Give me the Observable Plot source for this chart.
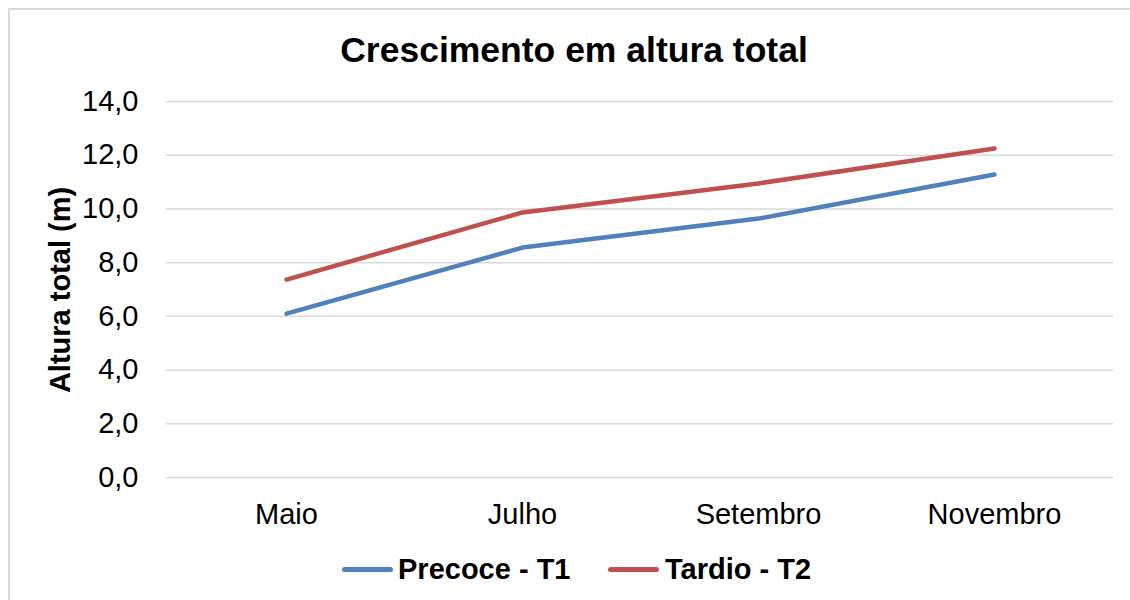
<!DOCTYPE html>
<html>
<head>
<meta charset="utf-8">
<script src="https://cdn.jsdelivr.net/npm/d3@7"></script>
<script src="https://cdn.jsdelivr.net/npm/@observablehq/plot@0.6"></script>
<style>
  html, body { margin: 0; padding: 0; background: #fff; }
  body { width: 1130px; height: 600px; overflow: hidden; position: relative; font-family: "Liberation Sans", Arial, sans-serif; }
  #frame { position: absolute; left: 8px; top: 8px; width: 1140px; height: 610px; border: 2px solid #d9d9d9; box-sizing: border-box; }
  #chart { position: absolute; left: 0; top: 0; }
  #title { position: absolute; left: 0; width: 1148px; top: 31px; text-align: center; font-weight: bold; font-size: 35.5px; line-height: 38px; color: #000; }
  #ylabel { position: absolute; left: 60px; top: 290px; transform: translate(-50%, -50%) rotate(-90deg); font-weight: bold; font-size: 29px; white-space: nowrap; color: #000; }
  .sw { position: absolute; height: 5px; border-radius: 3px; }
  .lt { position: absolute; font-weight: bold; font-size: 29px; line-height: 30px; white-space: nowrap; color: #000; }
</style>
</head>
<body>
<div id="frame"></div>
<div id="chart"></div>
<div id="title">Crescimento em altura total</div>
<div id="ylabel">Altura total (m)</div>
<div id="legend"></div>
<script>
const months = ["Maio", "Julho", "Setembro", "Novembro"];
const precoce = [6.10, 8.56, 9.64, 11.28];
const tardio = [7.37, 9.87, 10.95, 12.25];
const seriesNames = ["Precoce - T1", "Tardio - T2"];
const seriesColors = ["#4F81BD", "#C0504D"];
const yTicks = [0, 2, 4, 6, 8, 10, 12, 14];

const rows = [];
months.forEach((m, i) => {
  rows.push({month: m, value: precoce[i], series: seriesNames[0]});
  rows.push({month: m, value: tardio[i], series: seriesNames[1]});
});

const fmt = d => d.toFixed(1).replace(".", ",");

const chart = Plot.plot({
  width: 1130,
  height: 600,
  marginTop: 101,
  marginBottom: 123,
  marginLeft: 166,
  marginRight: 17,
  style: {fontFamily: "'Liberation Sans', Arial, sans-serif", background: "transparent"},
  x: {type: "point", domain: months, padding: 0.5, label: null},
  y: {domain: [0, 14], ticks: yTicks, label: null},
  color: {domain: seriesNames, range: seriesColors},
  marks: [
    Plot.gridY(yTicks, {stroke: "#d9d9d9", strokeOpacity: 1, strokeWidth: 1.5}),
    Plot.axisY(yTicks, {tickSize: 0, tickPadding: 28, tickFormat: fmt, fontSize: 29, fill: "#000", label: null}),
    Plot.axisX({tickSize: 0, tickPadding: 26, fontSize: 29, fill: "#000", label: null}),
    Plot.line(rows, {x: "month", y: "value", z: "series", stroke: "series", strokeWidth: 4.5, strokeLinecap: "round", strokeLinejoin: "round"})
  ]
});
document.getElementById("chart").appendChild(chart);

// legend
const legend = document.getElementById("legend");
const legendItems = [
  {name: seriesNames[0], color: seriesColors[0], sx: 342, tx: 398},
  {name: seriesNames[1], color: seriesColors[1], sx: 608, tx: 665}
];
legendItems.forEach(it => {
  const sw = document.createElement("div");
  sw.className = "sw";
  sw.style.left = it.sx + "px";
  sw.style.top = "567px";
  sw.style.width = "51px";
  sw.style.background = it.color;
  legend.appendChild(sw);
  const t = document.createElement("div");
  t.className = "lt";
  t.style.left = it.tx + "px";
  t.style.top = "554px";
  t.textContent = it.name;
  legend.appendChild(t);
});
</script>
</body>
</html>
